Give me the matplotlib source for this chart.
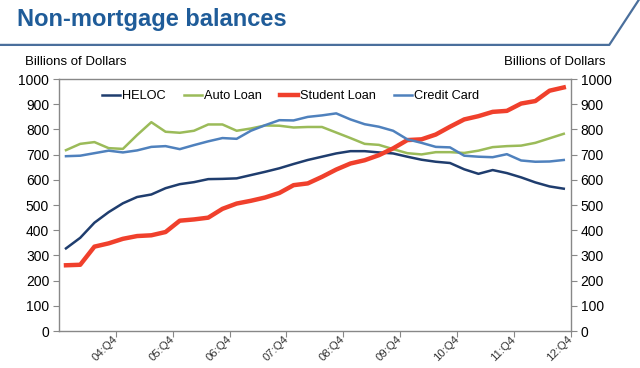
import matplotlib
matplotlib.use('Agg')
import matplotlib.pyplot as plt
from matplotlib.lines import Line2D
from matplotlib.transforms import ScaledTranslation

plt.rcParams['font.family'] = ['Liberation Sans', 'DejaVu Sans']

# quarterly balances, 04:Q1 .. 12:Q4 (billions of dollars)
heloc = [328, 370, 430, 472, 507, 532, 542, 567, 583, 591, 603, 604,
         606, 619, 632, 646, 663, 679, 692, 705, 714, 714, 709, 705,
         692, 680, 672, 667, 642, 624, 639, 627, 610, 590, 574, 565]
auto_loan = [718, 743, 750, 726, 723, 778, 829, 791, 787, 795, 820, 820,
             795, 804, 816, 815, 808, 810, 810, 788, 766, 743, 739, 722,
             706, 701, 710, 710, 707, 716, 730, 734, 736, 747, 765, 783]
student_loan = [261, 263, 335, 348, 366, 377, 380, 393, 438, 443, 450, 485,
                506, 517, 530, 548, 579, 586, 612, 641, 665, 678, 698, 725,
                758, 761, 780, 811, 840, 853, 870, 874, 903, 913, 954, 967]
credit_card = [694, 696, 706, 716, 709, 717, 731, 734, 722, 738, 753, 766,
               763, 795, 817, 837, 836, 850, 856, 864, 840, 821, 811, 795,
               761, 747, 731, 729, 696, 692, 690, 702, 677, 672, 673, 679]
tick_labels = ['04:Q4', '05:Q4', '06:Q4', '07:Q4', '08:Q4',
               '09:Q4', '10:Q4', '11:Q4', '12:Q4']

x = list(range(len(heloc)))

fig = plt.figure(figsize=(6.4, 3.68), dpi=100)
ax = fig.add_axes([0.092, 0.1005, 0.8, 0.6845])

ax.plot(x, heloc, color='#1f3d6e', lw=1.8, label='HELOC')
ax.plot(x, auto_loan, color='#9bbb59', lw=1.8, label='Auto Loan')
ax.plot(x, student_loan, color='#f0402c', lw=3.2, label='Student Loan')
ax.plot(x, credit_card, color='#4f81bd', lw=1.8, label='Credit Card')

ax.set_xlim(-0.5, len(heloc) - 0.5)
ax.set_ylim(0, 1000)
ax.set_yticks(range(0, 1001, 100))
ax.set_xticks([3.5 + 4 * k for k in range(len(tick_labels))])
ax.set_xticklabels(tick_labels, rotation=45, ha='right', va='center',
                   rotation_mode='anchor', fontsize=8.2, color='#333333')
# nudge rotated labels so their ends sit just left of the ticks
for lbl in ax.get_xticklabels():
    lbl.set_transform(lbl.get_transform() +
                      ScaledTranslation(-4 / 72, 0, fig.dpi_scale_trans))
ax.tick_params(axis='x', length=4, color='#888888', pad=1)
ax.tick_params(axis='y', length=4, color='#888888', labelsize=10,
               right=True, labelright=True, pad=3)
for s in ax.spines.values():
    s.set_color('#888888')
    s.set_linewidth(1.0)

ax.legend(loc='center left', ncol=4, frameon=False, fontsize=9.2,
          handlelength=1.4, handletextpad=0.15, columnspacing=1.45,
          borderpad=0, borderaxespad=0, bbox_to_anchor=(0.084, 0.9325))

# title and header rule
fig.text(0.027, 0.947, 'Non-mortgage balances', fontsize=17,
         fontweight='bold', color='#1f5c99', va='center')
fig.add_artist(Line2D([0, 0.952, 0.998], [0.878, 0.878, 1.0],
                      transform=fig.transFigure, color='#4a6f9c', lw=1.6))
fig.text(0.039, 0.832, 'Billions of Dollars', fontsize=9.5, va='center')
fig.text(0.946, 0.832, 'Billions of Dollars', fontsize=9.5, va='center',
         ha='right')

fig.savefig('out.png', dpi=100)
